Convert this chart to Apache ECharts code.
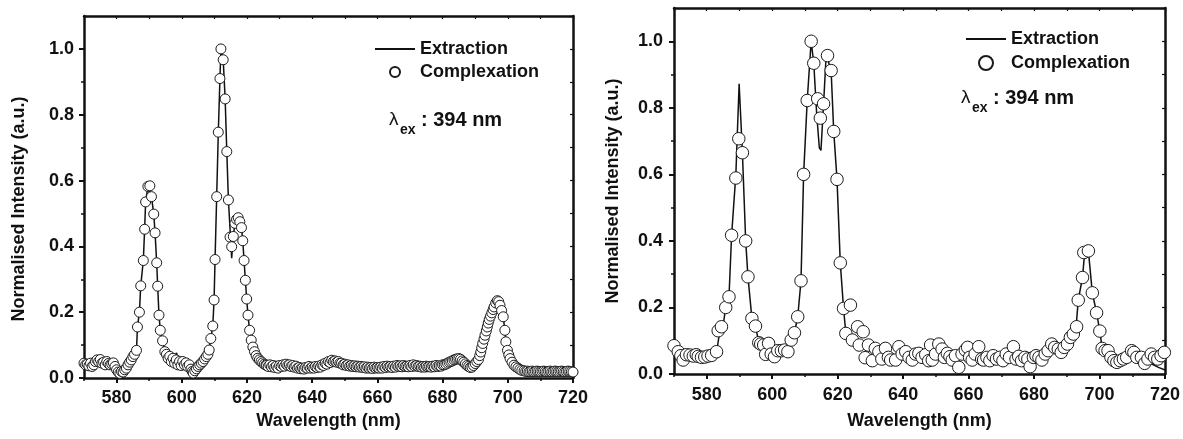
<!DOCTYPE html>
<html><head><meta charset="utf-8">
<script src="https://cdn.jsdelivr.net/npm/echarts@6/dist/echarts.min.js"></script>
<style>html,body{margin:0;padding:0;background:#fff}#c{width:1183px;height:439px}</style>
</head><body><div id="c"></div>
<script>
const xMajorTicks = [580,600,620,640,660,680,700,720];
const xMinorTicks = [570,590,610,630,650,670,690,710];
const yMajorTicks = [0,0.2,0.4,0.6,0.8,1.0];
const yMinorTicks = [0.1,0.3,0.5,0.7,0.9];
const seriesNames = ['Extraction','Complexation'];
const xTitle = 'Wavelength (nm)';
const yTitle = 'Normalised Intensity (a.u.)';

const leftComplexation = [
[570,0.045],[570.5,0.04],[571,0.042],[571.5,0.037],[572,0.045],[572.5,0.035],[573,0.04],[573.5,0.05],[574,0.055],[574.5,0.05],
[575,0.056],[575.5,0.045],[576,0.048],[576.5,0.04],[577,0.05],[577.5,0.044],[578,0.04],[578.5,0.043],[579,0.046],[579.5,0.035],
[580,0.025],[580.5,0.018],[581,0.014],[581.5,0.02],[582,0.018],[582.5,0.025],[583,0.03],[583.5,0.04],[584,0.048],[584.5,0.055],
[585,0.065],[585.5,0.072],[586.1,0.084],[586.4,0.155],[587,0.2],[587.4,0.28],[588.2,0.357],[588.6,0.452],[588.9,0.535],[589.6,0.582],
[590.2,0.584],[590.7,0.551],[591.4,0.498],[591.8,0.441],[592.3,0.35],[592.6,0.279],[593,0.191],[593.4,0.145],[594.1,0.113],[594.8,0.08],
[595.3,0.072],[595.8,0.06],[596.3,0.066],[596.8,0.05],[597.3,0.06],[597.8,0.045],[598.3,0.055],[598.8,0.04],[599.3,0.05],[599.8,0.038],
[600.3,0.05],[600.8,0.04],[601.3,0.046],[601.8,0.035],[602.3,0.04],[602.8,0.027],[603.2,0.02],[603.5,0.015],[604,0.022],[604.5,0.028],
[605,0.035],[605.5,0.04],[606,0.045],[606.5,0.05],[607,0.058],[607.5,0.065],[608,0.072],[608.4,0.085],[608.9,0.12],[609.5,0.158],
[609.9,0.237],[610.2,0.36],[610.7,0.551],[611.2,0.747],[611.7,0.91],[612,1.0],[612.7,0.967],[613.3,0.848],[613.8,0.688],[614.3,0.541],
[614.8,0.428],[615.3,0.399],[615.8,0.43],[616.3,0.47],[616.8,0.482],[617.3,0.487],[617.8,0.475],[618.3,0.457],[618.7,0.417],[619.1,0.357],
[619.5,0.297],[619.9,0.24],[620.3,0.191],[620.8,0.145],[621.3,0.115],[621.8,0.094],[622.3,0.08],[622.8,0.068],[623.3,0.06],[623.8,0.055],
[624.3,0.05],[624.8,0.046],[625.3,0.042],[625.8,0.04],
[626,0.038],[626.5,0.035],[627,0.04],[627.5,0.034],[628,0.038],[628.5,0.032],[629,0.036],[629.5,0.03],
[630,0.038],[630.5,0.035],[631,0.04],[631.5,0.036],[632,0.042],[632.5,0.038],[633,0.04],[633.5,0.035],[634,0.038],[634.5,0.033],
[635,0.036],[635.5,0.03],[636,0.032],[636.5,0.028],[637,0.03],[637.5,0.027],[638,0.032],[638.5,0.03],[639,0.035],[639.5,0.03],
[640,0.033],[640.5,0.03],[641,0.035],[641.5,0.032],[642,0.036],[642.5,0.033],[643,0.04],[643.5,0.038],[644,0.045],[644.5,0.042],
[645,0.05],[645.5,0.047],[646,0.054],[646.5,0.05],[647,0.052],[647.5,0.048],[648,0.05],[648.5,0.045],[649,0.045],[649.5,0.04],
[650,0.042],[650.5,0.038],[651,0.04],[651.5,0.036],[652,0.038],[652.5,0.035],[653,0.037],[653.5,0.034],[654,0.036],[654.5,0.033],
[655,0.035],[655.5,0.032],[656,0.034],[656.5,0.03],[657,0.033],[657.5,0.03],[658,0.032],[658.5,0.029],[659,0.033],[659.5,0.03],
[660,0.032],[660.5,0.03],[661,0.033],[661.5,0.03],[662,0.035],[662.5,0.032],[663,0.036],[663.5,0.033],[664,0.035],[664.5,0.032],
[665,0.036],[665.5,0.033],[666,0.038],[666.5,0.035],[667,0.037],[667.5,0.034],[668,0.038],[668.5,0.035],[669,0.036],[669.5,0.034],
[670,0.038],[670.5,0.035],[671,0.04],[671.5,0.036],[672,0.038],[672.5,0.035],[673,0.036],[673.5,0.033],[674,0.035],[674.5,0.033],
[675,0.036],[675.5,0.034],[676,0.035],[676.5,0.033],[677,0.036],[677.5,0.034],[678,0.038],[678.5,0.035],[679,0.037],[679.5,0.036],
[680,0.04],[680.5,0.04],[681,0.042],[681.5,0.045],[682,0.048],[682.5,0.05],[683,0.052],[683.5,0.055],[684,0.057],[684.5,0.058],
[685,0.059],[685.5,0.057],[686,0.052],[686.5,0.048],[687,0.043],[687.5,0.038],[688,0.035],[688.5,0.032],[689,0.033],[689.5,0.038],
[690,0.044],[690.5,0.05],[691,0.056],[691.4,0.068],[691.7,0.079],[692,0.092],[692.3,0.105],[692.7,0.118],[693,0.13],[693.4,0.143],
[693.7,0.155],[694,0.167],[694.3,0.178],[694.7,0.188],[695.1,0.198],[695.5,0.208],[695.8,0.216],[696.3,0.228],[696.8,0.235],[697.2,0.232],
[697.6,0.221],[698.1,0.205],[698.6,0.186],[699.1,0.145],[699.4,0.11],[699.9,0.084],[700.3,0.07],[700.7,0.059],[701.3,0.048],[701.9,0.039],
[702.5,0.034],[703.1,0.03],[703.7,0.026],[704.3,0.023],[705,0.022],[705.5,0.02],[706,0.021],[706.5,0.019],[707,0.02],[707.5,0.021],
[708,0.019],[708.5,0.02],[709,0.021],[709.5,0.02],[710,0.019],[710.5,0.02],[711,0.021],[711.5,0.02],[712,0.019],[712.5,0.02],
[713,0.021],[713.5,0.019],[714,0.02],[714.5,0.021],[715,0.02],[715.5,0.019],[716,0.02],[716.5,0.021],[717,0.02],[717.5,0.019],
[718,0.02],[718.5,0.021],[719,0.02],[719.5,0.019],[720,0.018]
];

const leftExtraction = [
[570,0.045],[572,0.042],[574,0.052],[576,0.046],[578,0.042],[579.5,0.04],[580.5,0.02],[582,0.018],[583.5,0.038],[585,0.065],
[586.1,0.084],[586.4,0.155],[587,0.2],[587.4,0.28],[588.2,0.357],[588.6,0.452],[588.9,0.535],[589.6,0.582],[590.2,0.584],[590.7,0.551],
[591.4,0.498],[591.8,0.441],[592.3,0.35],[592.6,0.279],[593,0.191],[593.4,0.145],[594.1,0.113],[594.8,0.08],[596,0.065],[597.5,0.06],
[598.4,0.076],[599,0.05],[600.5,0.045],[602,0.04],[603.5,0.018],[605,0.035],[606.5,0.05],[608,0.072],[608.4,0.085],[608.9,0.12],
[609.5,0.158],[609.9,0.237],[610.2,0.36],[610.7,0.551],[611.2,0.747],[611.7,0.91],[612,1.0],[612.7,0.967],[613.3,0.848],[613.8,0.688],
[614.3,0.541],[615.3,0.364],[615.8,0.43],[616.3,0.47],[616.8,0.482],[617.3,0.487],[617.8,0.475],[618.3,0.457],[618.7,0.417],[619.1,0.357],
[619.5,0.297],[619.9,0.24],[620.3,0.191],[620.8,0.145],[621.3,0.115],[621.8,0.094],[622.3,0.08],[623.3,0.06],[625,0.045],[627,0.038],
[630,0.037],[633,0.04],[636,0.03],[640,0.032],[643,0.04],[646,0.052],[649,0.043],[653,0.036],[657,0.032],[661,0.032],
[665,0.035],[669,0.036],[673,0.035],[677,0.035],[680,0.04],[682,0.048],[684.5,0.058],[686,0.052],[688,0.035],[689,0.033],
[690,0.044],[691,0.056],[692,0.092],[693,0.13],[694,0.167],[695.1,0.198],[695.8,0.216],[696.8,0.235],[697.6,0.221],[698.6,0.186],
[699.1,0.145],[699.4,0.11],[699.9,0.084],[700.7,0.059],[701.9,0.039],[703.7,0.026],[706,0.021],[710,0.02],[715,0.02],[720,0.018]
];

const rightComplexation = [
[570,0.085],[571.3,0.067],[572.1,0.055],[572.8,0.042],[573.8,0.058],[574.9,0.057],[575.9,0.054],[576.8,0.058],[577.4,0.053],[578.4,0.05],
[579.4,0.051],[580.4,0.054],[581.5,0.056],[583,0.067],[583.5,0.13],[584.5,0.142],[585.8,0.2],[586.8,0.232],[587.6,0.417],[588.9,0.589],
[589.8,0.707],[590.9,0.665],[591.9,0.4],[592.6,0.292],[593.8,0.167],[594.9,0.144],[595.9,0.094],[596.5,0.09],[597.4,0.087],[598,0.059],
[598.9,0.092],[599.7,0.06],[600.7,0.052],[601.7,0.07],[602.8,0.07],[603.8,0.072],[604.8,0.067],[605.8,0.102],[606.8,0.124],[607.8,0.172],
[608.8,0.28],[609.6,0.6],[610.7,0.822],[611.9,1.0],[612.7,0.934],[613.9,0.827],[614.7,0.769],[615.7,0.812],[616.9,0.957],[618,0.912],
[618.8,0.729],[619.8,0.585],[620.8,0.334],[621.8,0.197],[622.5,0.122],[623.9,0.207],[624.5,0.102],[626.1,0.142],[626.6,0.087],[627.8,0.127],
[628.4,0.049],[629.4,0.087],[630.6,0.04],[631.5,0.077],[632.6,0.067],[633.5,0.045],[634.6,0.077],[635.5,0.05],[636.2,0.042],[637.7,0.042],
[638.7,0.082],[639.7,0.06],[640.8,0.067],[641.8,0.05],[642.8,0.042],[643.8,0.06],[644.8,0.062],[645.8,0.05],[646.9,0.058],[647.8,0.04],
[648.4,0.087],[648.9,0.042],[649.9,0.06],[650.9,0.09],[651.9,0.075],[652.6,0.05],[653.5,0.062],[654.3,0.052],[655,0.042],[656,0.055],
[657,0.02],[658,0.06],[659,0.072],[659.7,0.08],[660.3,0.05],[661.1,0.042],[662,0.06],[663.1,0.082],[664,0.045],[664.6,0.042],
[665.6,0.05],[666.5,0.04],[667.5,0.055],[668.5,0.045],[669.5,0.05],[670.5,0.04],[671.5,0.06],[672.5,0.05],[673.7,0.082],[674.5,0.045],
[675.3,0.053],[676.2,0.04],[677.2,0.05],[678.1,0.045],[678.8,0.022],[679.8,0.05],[680.6,0.055],[681.5,0.05],[682.4,0.042],[683.4,0.06],
[684.3,0.07],[685.4,0.09],[686.3,0.08],[687.4,0.075],[688.3,0.065],[689.2,0.08],[690.2,0.09],[691.1,0.11],[692,0.12],[693,0.142],
[693.5,0.222],[694.8,0.29],[695.2,0.365],[696.6,0.37],[697.8,0.244],[699.1,0.184],[700.1,0.129],[700.8,0.077],[701.7,0.07],[702.6,0.07],
[703.5,0.05],[704.4,0.04],[705.3,0.035],[706.3,0.04],[707.3,0.045],[708.3,0.05],[709.8,0.07],[710.5,0.065],[711.4,0.05],[712.8,0.05],
[713.8,0.032],[714.8,0.045],[715.8,0.06],[716.8,0.05],[717.8,0.045],[718.8,0.055],[719.8,0.065]
];

const rightExtraction = [
[570,0.085],[571.3,0.067],[572.8,0.045],[574.9,0.057],[576.8,0.056],[578.4,0.05],[580.4,0.054],[581.5,0.056],[583,0.065],[584,0.13],
[585,0.145],[585.8,0.2],[586.8,0.232],[587.6,0.417],[588.9,0.6],[589.9,0.872],[590.9,0.665],[591.9,0.4],[592.6,0.292],[593.8,0.167],
[594.9,0.144],[595.9,0.094],[597,0.085],[598,0.065],[599,0.08],[600,0.06],[601,0.058],[602,0.068],[603,0.07],[604,0.072],
[604.8,0.067],[605.8,0.102],[606.8,0.124],[607.8,0.172],[608.8,0.28],[609.6,0.6],[610.7,0.822],[611.9,1.0],[612.7,0.934],[613.6,0.78],
[614.4,0.68],[614.9,0.672],[615.7,0.812],[616.5,0.96],[616.9,0.957],[618,0.912],[618.8,0.729],[619.8,0.585],[620.8,0.334],[621.8,0.197],
[622.5,0.122],[623.5,0.11],[624.5,0.102],[626,0.09],[627.8,0.08],[629.4,0.07],[631.5,0.065],[633.5,0.055],[635.5,0.05],[638,0.055],
[640.8,0.06],[643.8,0.055],[646.9,0.055],[649.9,0.06],[652.6,0.055],[655,0.05],[658,0.055],[661.1,0.055],[664,0.05],[667.5,0.05],
[670.5,0.05],[673.7,0.055],[676.2,0.05],[679.8,0.05],[682.4,0.055],[684.3,0.07],[686.3,0.08],[688.3,0.07],[690.2,0.09],[691.1,0.11],
[692,0.12],[693,0.16],[693.5,0.222],[694.8,0.29],[695.5,0.37],[696.6,0.37],[697.8,0.244],[699.1,0.184],[700.1,0.129],[700.8,0.077],
[702.6,0.065],[704.4,0.045],[706.3,0.045],[708.3,0.05],[710.5,0.06],[712.8,0.045],[713.8,0.035],[716,0.03],[718,0.02],[720,0.012]
];

const FONT = '"Liberation Sans", Arial, Helvetica, sans-serif';
const INK = '#111';

function xAxesFor(g, nameGap, labelMargin) {
  const common = {gridIndex: g, type: 'value', min: 570, max: 720, splitLine: {show: false}};
  return [
    Object.assign({}, common, {
      position: 'bottom',
      axisLine: {onZero: false, lineStyle: {color: INK, width: 2.5}},
      axisTick: {customValues: xMajorTicks, length: 5, lineStyle: {color: INK, width: 2}},
      axisLabel: {customValues: xMajorTicks, margin: labelMargin, color: INK, fontFamily: FONT, fontWeight: 'bold', fontSize: 18},
      name: xTitle, nameLocation: 'middle', nameGap: nameGap,
      nameTextStyle: {color: INK, fontFamily: FONT, fontWeight: 'bold', fontSize: 18}
    }),
    Object.assign({}, common, {
      position: 'bottom',
      axisLine: {show: false, onZero: false},
      axisTick: {customValues: xMinorTicks, length: 3, lineStyle: {color: INK, width: 1.5}},
      axisLabel: {show: false}
    }),
    Object.assign({}, common, {
      position: 'top', interval: 10,
      axisLine: {onZero: false, lineStyle: {color: INK, width: 2.5}},
      axisTick: {inside: true, length: 3, lineStyle: {color: INK, width: 1.2}},
      axisLabel: {show: false}
    })
  ];
}

function yAxesFor(g, nameGap, labelMargin, namePad) {
  const common = {gridIndex: g, type: 'value', min: 0, max: 1.1, splitLine: {show: false}};
  return [
    Object.assign({}, common, {
      position: 'left',
      axisLine: {onZero: false, lineStyle: {color: INK, width: 2.5}},
      axisTick: {customValues: yMajorTicks, length: 5, lineStyle: {color: INK, width: 2}},
      axisLabel: {customValues: yMajorTicks, margin: labelMargin, color: INK, fontFamily: FONT, fontWeight: 'bold', fontSize: 18,
        formatter: v => v.toFixed(1)},
      name: yTitle, nameLocation: 'middle', nameGap: nameGap,
      nameTextStyle: {color: INK, fontFamily: FONT, fontWeight: 'bold', fontSize: 18, padding: namePad}
    }),
    Object.assign({}, common, {
      position: 'left',
      axisLine: {show: false, onZero: false},
      axisTick: {customValues: yMinorTicks, length: 3, lineStyle: {color: INK, width: 1.5}},
      axisLabel: {show: false}
    }),
    Object.assign({}, common, {
      position: 'right', interval: 0.1,
      axisLine: {onZero: false, lineStyle: {color: INK, width: 2.5}},
      axisTick: {inside: true, length: 3, lineStyle: {color: INK, width: 1.2}},
      axisLabel: {show: false}
    })
  ];
}

function lineSeries(axisIdx, data) {
  return {name: seriesNames[0], type: 'line', xAxisIndex: axisIdx, yAxisIndex: axisIdx, data: data,
    symbol: 'none', lineStyle: {color: INK, width: 1.5}, itemStyle: {color: INK}, z: 2, animation: false};
}
function scatterSeries(axisIdx, data, size) {
  return {name: seriesNames[1], type: 'scatter', xAxisIndex: axisIdx, yAxisIndex: axisIdx, data: data,
    symbol: 'circle', symbolSize: size, clip: true,
    itemStyle: {color: '#fff', borderColor: '#1a1a1a', borderWidth: 1, opacity: 1}, z: 3, animation: false};
}

function lambdaLabel(x, y) {
  return [
    {type: 'text', style: {x: x, y: y, text: 'λ', font: '19px ' + FONT, fill: INK, verticalAlign: 'middle', align: 'left'}},
    {type: 'text', style: {x: x + 11, y: y + 10, text: 'ex', font: 'bold 14px ' + FONT, fill: INK, verticalAlign: 'middle', align: 'left'}},
    {type: 'text', style: {x: x + 32, y: y, text: ': 394 nm', font: 'bold 20px ' + FONT, fill: INK, verticalAlign: 'middle', align: 'left'}}
  ];
}

function legendFor(left, top, iconH, lineH) {
  return {
    data: [
      {name: seriesNames[0], itemStyle: {opacity: 0, color: 'transparent', borderColor: 'transparent'}, lineStyle: {width: 2, color: INK}},
      {name: seriesNames[1]}
    ],
    orient: 'vertical', left: left, top: top, padding: 0, itemWidth: 40, itemHeight: iconH, itemGap: 4,
    selectedMode: false,
    textStyle: {color: INK, fontFamily: FONT, fontWeight: 'bold', fontSize: 18, lineHeight: lineH}
  };
}

const chart = echarts.init(document.getElementById('c'), null, {renderer: 'canvas'});
chart.setOption({
  animation: false,
  backgroundColor: '#fff',
  grid: [
    {left: 84, right: 610, top: 16, bottom: 61},
    {left: 674, right: 16, top: 8, bottom: 65}
  ],
  xAxis: [].concat(xAxesFor(0, 33, 11), xAxesFor(1, 38, 12)),
  yAxis: [].concat(yAxesFor(0, 56, 10, [0, 24, 0, 0]), yAxesFor(1, 52, 11, 0)),
  legend: [legendFor(374, 39.5, 10, 19), legendFor(965, 29, 14, 20)],
  graphic: [].concat(lambdaLabel(389, 120), lambdaLabel(961, 98)),
  series: [
    lineSeries(0, leftExtraction),
    scatterSeries(0, leftComplexation, 10),
    lineSeries(3, rightExtraction),
    scatterSeries(3, rightComplexation, 12.5)
  ]
});
</script>
</body></html>
